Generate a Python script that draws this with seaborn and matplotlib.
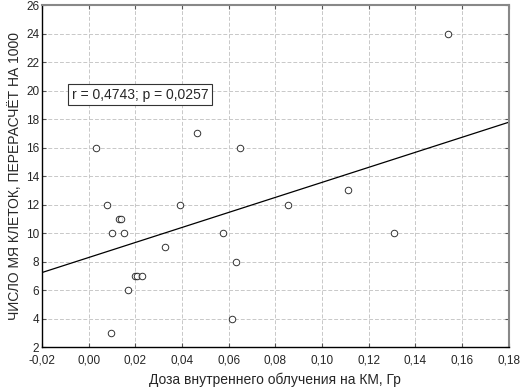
import seaborn as sns
import matplotlib.pyplot as plt
from matplotlib.ticker import FuncFormatter, MultipleLocator
import pandas as pd

# dose (Gy) and cell counts
dose = [0.003, 0.0465, 0.065, 0.008, 0.013, 0.014, 0.010, 0.015, 0.039, 0.0325,
        0.020, 0.0206, 0.0227, 0.017, 0.0094, 0.0574, 0.063, 0.0614, 0.154,
        0.0856, 0.111, 0.131]
cells = [16, 17, 16, 12, 11, 11, 10, 10, 12, 9, 7, 7, 7, 6, 3, 10, 8, 4, 24, 12, 13, 10]

df = pd.DataFrame({"dose": dose, "cells": cells})

sns.set_style("ticks")
plt.rcParams["font.family"] = ["Liberation Sans", "DejaVu Sans"]

fig = plt.figure(figsize=(5.2, 3.9), dpi=100)
ax = fig.add_axes([0.081, 0.11, 0.897, 0.877])
ax.set_xlim(-0.02, 0.18)
ax.set_ylim(2, 26)

sns.regplot(data=df, x="dose", y="cells", ci=None, truncate=False, ax=ax,
            scatter_kws=dict(s=22, facecolors="white", edgecolors="black", linewidths=0.7),
            line_kws=dict(color="black", lw=0.9))

ax.set_xlim(-0.02, 0.18)
ax.set_ylim(2, 26)
ax.xaxis.set_major_locator(MultipleLocator(0.02))
ax.yaxis.set_major_locator(MultipleLocator(2))
ax.xaxis.set_major_formatter(FuncFormatter(lambda v, p: f"{v:.2f}".replace(".", ",").replace("-0,00", "0,00")))
ax.grid(True, color="#c8c8c8", lw=0.7, ls=(0, (4, 2)))
ax.set_axisbelow(True)
ax.tick_params(direction="in", length=3, labelsize=8.5, top=True, right=True,
               labeltop=False, labelright=False, color="#555555", pad=2)
ax.tick_params(axis="x", pad=5)
for s in ["top", "right"]:
    ax.spines[s].set_color("#888888")
    ax.spines[s].set_linewidth(1.5)
for s in ["left", "bottom"]:
    ax.spines[s].set_color("black")
    ax.spines[s].set_linewidth(1.0)

ax.set_xlabel("Доза внутреннего облучения на КМ, Гр", fontsize=10, labelpad=5)
ax.set_ylabel("ЧИСЛО МЯ КЛЕТОК, ПЕРЕРАСЧЁТ НА 1000", fontsize=10, labelpad=3)

ax.text(-0.0073, 19.7, "r = 0,4743; p = 0,0257", fontsize=10, va="center", ha="left",
        bbox=dict(boxstyle="square,pad=0.25", fc="white", ec="#333333", lw=0.8))

fig.savefig("out.png", dpi=100)
